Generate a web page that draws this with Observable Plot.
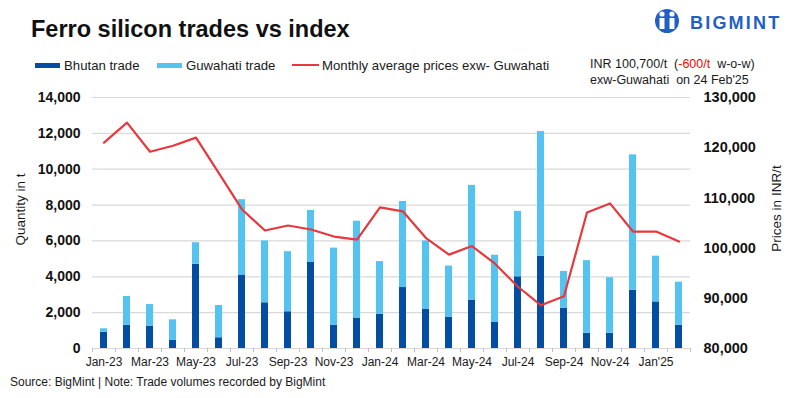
<!DOCTYPE html>
<html>
<head>
<meta charset="utf-8">
<script src="https://cdn.jsdelivr.net/npm/d3@7"></script>
<script src="https://cdn.jsdelivr.net/npm/@observablehq/plot@0.6"></script>
<style>
  html, body { margin: 0; padding: 0; background: #fff; }
  #wrap { position: relative; width: 800px; height: 398px; overflow: hidden; font-family: "Liberation Sans", Arial, sans-serif; color: #1a1a1a; }
  .abs { position: absolute; white-space: nowrap; }
  #title { left: 31px; top: 16px; font-size: 23.5px; font-weight: bold; color: #111; }
  .leg { top: 57px; font-size: 13.2px; display: flex; align-items: center; height: 16px; }
  .sw { display: inline-block; width: 25px; height: 5px; margin-right: 4px; }
  .note { left: 590px; font-size: 12.5px; color: #1a1a1a; }
  .ylab { font-size: 13.5px; transform: rotate(-90deg); transform-origin: center center; }
  #source { left: 10px; top: 375px; font-size: 12px; }
  #chart { position: absolute; left: 0; top: 85px; }
</style>
</head>
<body>
<div id="wrap">
  <div id="title" class="abs">Ferro silicon trades vs index</div>
  <svg class="abs" style="left:640px;top:0px" width="160" height="45" viewBox="0 0 160 45">
    <circle cx="27" cy="21" r="12" fill="#1f5fc6"/>
    <circle cx="22" cy="14" r="2.6" fill="#fff"/>
    <circle cx="32" cy="14" r="2.6" fill="#fff"/>
    <path d="M19.5 18 h5 v11 h-5z M29.5 18 h5 v11 h-5z" fill="#fff"/>
    <path d="M24 33 L27 27 L30 33 Z" fill="#1f5fc6"/>
    <text x="50" y="29" font-family="Liberation Sans, Arial, sans-serif" font-weight="bold" font-size="18" letter-spacing="2.2" fill="#1f5fc6">BIGMINT</text>
  </svg>
  <div class="abs leg" style="left:35px"><span class="sw" style="background:#034ea2"></span>Bhutan trade</div>
  <div class="abs leg" style="left:157px"><span class="sw" style="background:#55c3f0"></span>Guwahati trade</div>
  <div class="abs leg" style="left:292px"><span class="sw" style="background:#e8383d;height:2.5px;width:27px;margin-right:3px"></span>Monthly average prices exw- Guwahati</div>
  <div class="abs note" style="top:57px">INR 100,700/t &nbsp;(<span style="color:#ff0000">-600/t</span>&nbsp; w-o-w)</div>
  <div class="abs note" style="top:73px">exw-Guwahati &nbsp;on 24 Feb'25</div>
  <div class="abs ylab" style="left:-25px;top:202px;width:90px;text-align:center">Quantity in t</div>
  <div class="abs ylab" style="left:728px;top:201px;width:96px;text-align:center">Prices in INR/t</div>
  <div id="chart"></div>
  <div id="source" class="abs">Source: BigMint | Note: Trade volumes recorded by BigMint</div>
</div>
<script>
const months = ["Jan-23","Feb-23","Mar-23","Apr-23","May-23","Jun-23","Jul-23","Aug-23","Sep-23","Oct-23","Nov-23","Dec-23",
  "Jan-24","Feb-24","Mar-24","Apr-24","May-24","Jun-24","Jul-24","Aug-24","Sep-24","Oct-24","Nov-24","Dec-24","Jan'25","Feb'25"];
const bhutanTrade = [900,1300,1250,450,4700,600,4100,2550,2050,4800,1300,1700,1900,3400,2200,1750,2700,1450,4000,5150,2250,850,850,3250,2600,1300];
const guwahatiTrade = [200,1600,1200,1150,1200,1800,4200,3450,3350,2900,4300,5400,2950,4800,3800,2850,6400,3750,3650,6950,2050,4050,3100,7550,2550,2400];
const avgPrice = [121000,125000,119200,120400,122000,114900,107700,103500,104500,103700,102300,101700,108100,107300,102000,98700,100400,96900,92300,88600,90400,107100,108900,103300,103300,101300];
const xTickLabels = ["Jan-23","Mar-23","May-23","Jul-23","Sep-23","Nov-23","Jan-24","Mar-24","May-24","Jul-24","Sep-24","Nov-24","Jan'25"];
const qtyTicks = [0,2000,4000,6000,8000,10000,12000,14000];
const priceTicks = [80000,90000,100000,110000,120000,130000];
const seriesNames = ["Bhutan trade","Guwahati trade"];
const seriesColors = ["#034ea2","#55c3f0"];

// map price axis (80k-130k) onto quantity axis (0-14k)
const pMin = 80000, pMax = 130000, qMax = 14000;
const p2q = p => (p - pMin) * qMax / (pMax - pMin);
const q2p = q => q * (pMax - pMin) / qMax + pMin;

const rows = [];
months.forEach((m, i) => {
  rows.push({month: m, series: seriesNames[0], value: bhutanTrade[i]});
  rows.push({month: m, series: seriesNames[1], value: guwahatiTrade[i]});
});
const priceRows = months.map((m, i) => ({month: m, price: avgPrice[i]}));
const fmt = d3.format(",");
const labelMonths = months.filter(m => xTickLabels.includes(m));
const bw = (690 - 92) / months.length;

const chart = Plot.plot({
  width: 800,
  height: 290,
  marginLeft: 92,
  marginRight: 110,
  marginTop: 12,
  marginBottom: 27,
  style: {fontFamily: "'Liberation Sans', Arial, sans-serif", color: "#1a1a1a", background: "transparent"},
  x: {domain: months, padding: 0, axis: null, label: null},
  y: {domain: [0, qMax], axis: null, label: null},
  color: {domain: seriesNames, range: seriesColors},
  marks: [
    Plot.gridY(qtyTicks, {stroke: "#d9d9d9", strokeOpacity: 1, strokeWidth: 1.2}),
    Plot.barY(rows, {x: "month", y: "value", fill: "series", insetLeft: 8, insetRight: 8}),
    Plot.line(priceRows, {x: "month", y: d => p2q(d.price), stroke: "#e8383d", strokeWidth: 2.2}),
    // ticks at band boundaries
    Plot.axisX(months, {tickFormat: null, label: null, tickSize: 4, dx: -bw / 2, stroke: "#bfbfbf"}),
    Plot.axisX([months[months.length - 1]], {tickFormat: null, label: null, tickSize: 4, dx: bw / 2, stroke: "#bfbfbf"}),
    Plot.axisX(labelMonths, {tickSize: 0, tickPadding: 9, label: null, tickFormat: m => xTickLabels[labelMonths.indexOf(m)],
      fontSize: 12, fill: "#1a1a1a"}),
    Plot.axisY(qtyTicks, {anchor: "left", label: null, tickSize: 0, tickPadding: 12, tickFormat: fmt, fontSize: 14, fontWeight: "bold", fill: "#111"}),
    Plot.axisY(priceTicks.map(p2q), {anchor: "right", label: null, tickSize: 0, tickPadding: 13, tickFormat: q => fmt(Math.round(q2p(q))), fontSize: 14.5, fontWeight: "bold", fill: "#111"})
  ]
});
document.getElementById("chart").appendChild(chart);
</script>
</body>
</html>
